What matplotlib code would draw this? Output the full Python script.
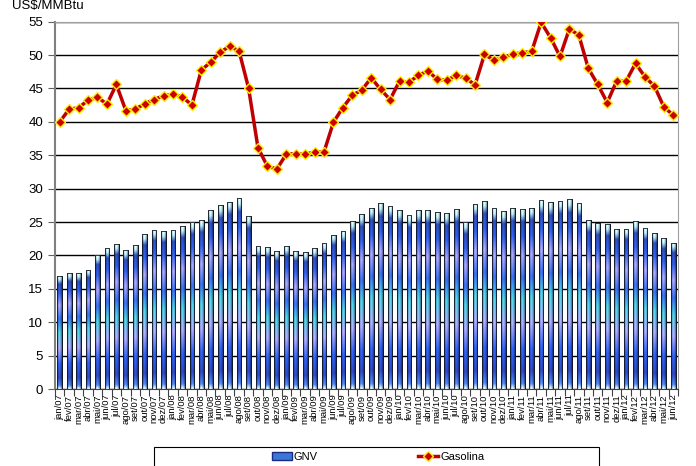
import matplotlib
matplotlib.use("Agg")
import matplotlib.pyplot as plt
import numpy as np
from matplotlib.colors import to_rgb
from matplotlib.lines import Line2D
from matplotlib.patches import Patch, Rectangle

plt.rcParams["font.family"] = ["Liberation Sans", "DejaVu Sans"]

months = ["jan", "fev", "mar", "abr", "mai", "jun",
          "jul", "ago", "set", "out", "nov", "dez"]
labels = [f"{m}/{y:02d}" for y in range(7, 13) for m in months][:66]

gnv = [16.85, 17.3, 17.3, 17.85, 20.0, 21.05, 21.7, 20.8, 21.55, 23.2, 23.85, 23.65,
       23.75, 24.4, 24.95, 25.25, 26.8, 27.55, 28.05, 28.6, 25.9, 21.4, 21.25, 20.65,
       21.35, 20.65, 20.45, 21.05, 21.85, 23.1, 23.6, 25.15, 26.2, 27.15, 27.85, 27.45,
       26.8, 26.05, 26.8, 26.8, 26.45, 26.3, 26.95, 25.0, 27.75, 28.2, 27.1, 26.65,
       27.1, 26.95, 27.15, 28.3, 27.95, 28.2, 28.45, 27.85, 25.3, 24.8, 24.65, 24.0,
       24.0, 25.15, 24.1, 23.4, 22.6, 21.9]

gasolina = [40.0, 41.9, 42.1, 43.25, 43.7, 42.65, 45.6, 41.7, 41.9, 42.7, 43.35, 43.9,
            44.15, 43.75, 42.5, 47.75, 48.95, 50.4, 51.35, 50.6, 45.1, 36.15, 33.35, 32.95,
            35.15, 35.25, 35.15, 35.5, 35.5, 39.95, 42.15, 44.0, 44.75, 46.6, 44.85, 43.35,
            46.1, 45.95, 46.95, 47.65, 46.35, 46.25, 46.95, 46.55, 45.55, 50.1, 49.25, 49.65,
            50.15, 50.35, 50.55, 54.9, 52.6, 49.8, 53.95, 52.95, 48.0, 45.6, 42.9, 46.1,
            46.1, 48.75, 46.75, 45.35, 42.25, 41.0]

W, H = 696, 466
fig = plt.figure(figsize=(W / 100, H / 100), dpi=100)
ax = fig.add_axes([55 / W, 1 - 389 / H, 623 / W, 367.3 / H])

x = np.arange(len(gnv))
bw = 0.5

# vertical colour bands of the Excel-style gradient fill
stops = [0.0, 0.03, 0.1, 0.22, 0.36, 0.5, 0.62, 0.74, 0.85, 0.93, 0.97, 1.0]
cols = ["#e0f6f6", "#4a80e8", "#2c44b8", "#2a5ae8", "#a0a0f4", "#48c4d4",
        "#3468e8", "#9c9cf2", "#2a58e0", "#2a48b0", "#b0e0e8", "#e0f6f6"]
t = np.linspace(0, 1, 300)
vert = np.array([np.interp(t, stops, [to_rgb(c)[i] for c in cols]) for i in range(3)]).T
horiz = np.array([0.55, 0.85, 1.05, 1.15, 1.05, 0.9, 0.65])
img = np.clip(vert[:, None, :] * horiz[None, :, None], 0, 1)

bars = ax.bar(x, gnv, width=bw, color="#2a5ad8", edgecolor="black", linewidth=0.6, zorder=2)
for b, v in zip(bars, gnv):
    im = ax.imshow(img, extent=(b.get_x(), b.get_x() + bw, 0, v), origin="lower",
                   aspect="auto", interpolation="bilinear", zorder=2.1)
    im.set_clip_path(b)
    ax.add_patch(Rectangle((b.get_x(), 0), bw, v, fill=False, edgecolor="#101828",
                           linewidth=0.6, zorder=2.2))

ax.plot(x, gasolina, color="#c00000", linewidth=2.5, marker="D", markersize=5,
        markerfacecolor="#cc0000", markeredgecolor="#ffee00", markeredgewidth=1, zorder=3)

ax.set_xlim(-0.5, len(gnv) - 0.5)
ax.set_ylim(0, 55)
ax.set_yticks(np.arange(0, 56, 5))
ax.set_xticks(x)
ax.set_xticklabels(labels, rotation=90, fontsize=6.8)
ax.tick_params(axis="x", length=0, pad=4)
ax.set_xticks(np.arange(-0.5, len(gnv), 1), minor=True)
ax.tick_params(axis="x", which="minor", length=5, width=0.8, color="#404040")
ax.tick_params(axis="y", labelsize=9.5, length=5, width=0.8, color="#606060")
ax.grid(axis="y", color="black", linewidth=1, zorder=0)
ax.set_axisbelow(True)
for s in ["top", "right"]:
    ax.spines[s].set_color("#a0a0a0")
ax.spines["left"].set_color("#808080")
ax.spines["left"].set_linewidth(1.5)
ax.spines["bottom"].set_color("#404040")

fig.text(12 / W, 1 - 9 / H, "US$/MMBtu", fontsize=9.5, va="baseline", ha="left")

fig.add_artist(Rectangle((154 / W, -0.05), 445 / W, 1 - 447 / H + 0.05,
                         transform=fig.transFigure, fill=False, edgecolor="black", linewidth=0.8))
handles = [Patch(facecolor="#3a78d8", edgecolor="#1a2a80"),
           Line2D([], [], color="#c00000", linewidth=2.5, marker="D", markersize=5,
                  markerfacecolor="#cc0000", markeredgecolor="#ffee00")]
fig.legend(handles, ["GNV", "Gasolina"], loc="upper center", ncol=2, frameon=False,
           bbox_to_anchor=(378 / W, 1 - 452 / H), fontsize=8, columnspacing=9,
           handlelength=1.8, handletextpad=0.2, borderpad=0, borderaxespad=0)

fig.savefig("out.png", dpi=100)
